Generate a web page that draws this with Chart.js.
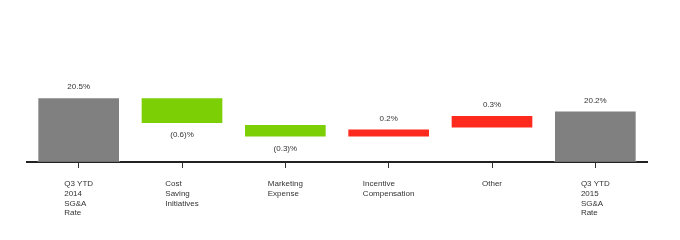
<!DOCTYPE html>
<html>
<head>
<meta charset="utf-8">
<script src="https://cdn.jsdelivr.net/npm/chart.js@4/dist/chart.umd.min.js"></script>
<style>
  html, body { margin: 0; padding: 0; background: #fff; }
  #wrap { width: 680px; height: 240px; }
</style>
</head>
<body>
<div id="wrap"><canvas id="chart" width="680" height="240"></canvas></div>
<script>
const categories = [
    ['Q3 YTD', '2014', 'SG&A', 'Rate'],
    ['Cost', 'Saving', 'Initiatives'],
    ['Marketing', 'Expense'],
    ['Incentive', 'Compensation'],
    ['Other'],
    ['Q3 YTD', '2015', 'SG&A', 'Rate']
];
const startRate = 20.5;
const changes = [-0.6, -0.3, 0.2, 0.3];
const endRate = 20.2;
const axisBase = 19.05;
const valueLabels = ['20.5%', '(0.6)%', '(0.3)%', '0.2%', '0.3%', '20.2%'];

const GRAY = '#808080';
const GREEN = '#7ccf04';
const RED = '#ff2a1e';

// build floating bars for the waterfall
const bars = [[axisBase, startRate]];
const colors = [GRAY];
let running = startRate;
changes.forEach(c => {
    const next = running + c;
    bars.push([Math.min(running, next), Math.max(running, next)]);
    colors.push(c < 0 ? GREEN : RED);
    running = next;
});
bars.push([axisBase, endRate]);
colors.push(GRAY);

// labels above totals/increases, below decreases
const valueLabelPlugin = {
    id: 'valueLabels',
    afterDatasetsDraw(chart) {
        const ctx = chart.ctx;
        const meta = chart.getDatasetMeta(0);
        ctx.save();
        ctx.font = '8px "Liberation Sans", Arial, sans-serif';
        ctx.fillStyle = '#333';
        ctx.textAlign = 'center';
        ctx.textBaseline = 'middle';
        meta.data.forEach((bar, i) => {
            const isDown = i > 0 && i <= changes.length && changes[i - 1] < 0;
            const top = Math.min(bar.y, bar.base);
            const bottom = Math.max(bar.y, bar.base);
            const y = isDown ? bottom + 11 : top - 10;
            ctx.fillText(valueLabels[i], bar.x, y);
        });
        ctx.restore();
    }
};

// x labels: block centred on the tick, lines left aligned
const categoryLabelPlugin = {
    id: 'categoryLabels',
    afterDraw(chart) {
        const ctx = chart.ctx;
        const xScale = chart.scales.x;
        ctx.save();
        ctx.font = '8px "Liberation Sans", Arial, sans-serif';
        ctx.fillStyle = '#333';
        ctx.textAlign = 'left';
        ctx.textBaseline = 'middle';
        categories.forEach((lines, i) => {
            const cx = xScale.getPixelForValue(i);
            const w = Math.max(...lines.map(l => ctx.measureText(l).width));
            lines.forEach((line, j) => {
                ctx.fillText(line, cx - w / 2, chart.chartArea.bottom + 22 + j * 9.7);
            });
        });
        ctx.restore();
    }
};

new Chart(document.getElementById('chart').getContext('2d'), {
    type: 'bar',
    data: {
        labels: categories.map(c => c.join(' ')),
        datasets: [{
            data: bars,
            backgroundColor: colors,
            borderColor: 'rgba(255,255,255,0.35)',
            borderWidth: 1,
            borderSkipped: false,
            barPercentage: 0.8,
            categoryPercentage: 1.0
        }]
    },
    options: {
        responsive: false,
        animation: false,
        layout: { padding: { left: 27, right: 33, top: 10, bottom: 72 } },
        plugins: {
            legend: { display: false },
            tooltip: { enabled: false }
        },
        scales: {
            x: {
                offset: true,
                grid: {
                    offset: false,
                    drawOnChartArea: false,
                    drawTicks: true,
                    tickLength: 6,
                    color: '#333',
                    lineWidth: 1
                },
                border: { display: true, color: '#222', width: 2 },
                ticks: { display: false }
            },
            y: {
                display: false,
                min: axisBase,
                max: 22.45
            }
        }
    },
    plugins: [valueLabelPlugin, categoryLabelPlugin]
});
</script>
</body>
</html>
